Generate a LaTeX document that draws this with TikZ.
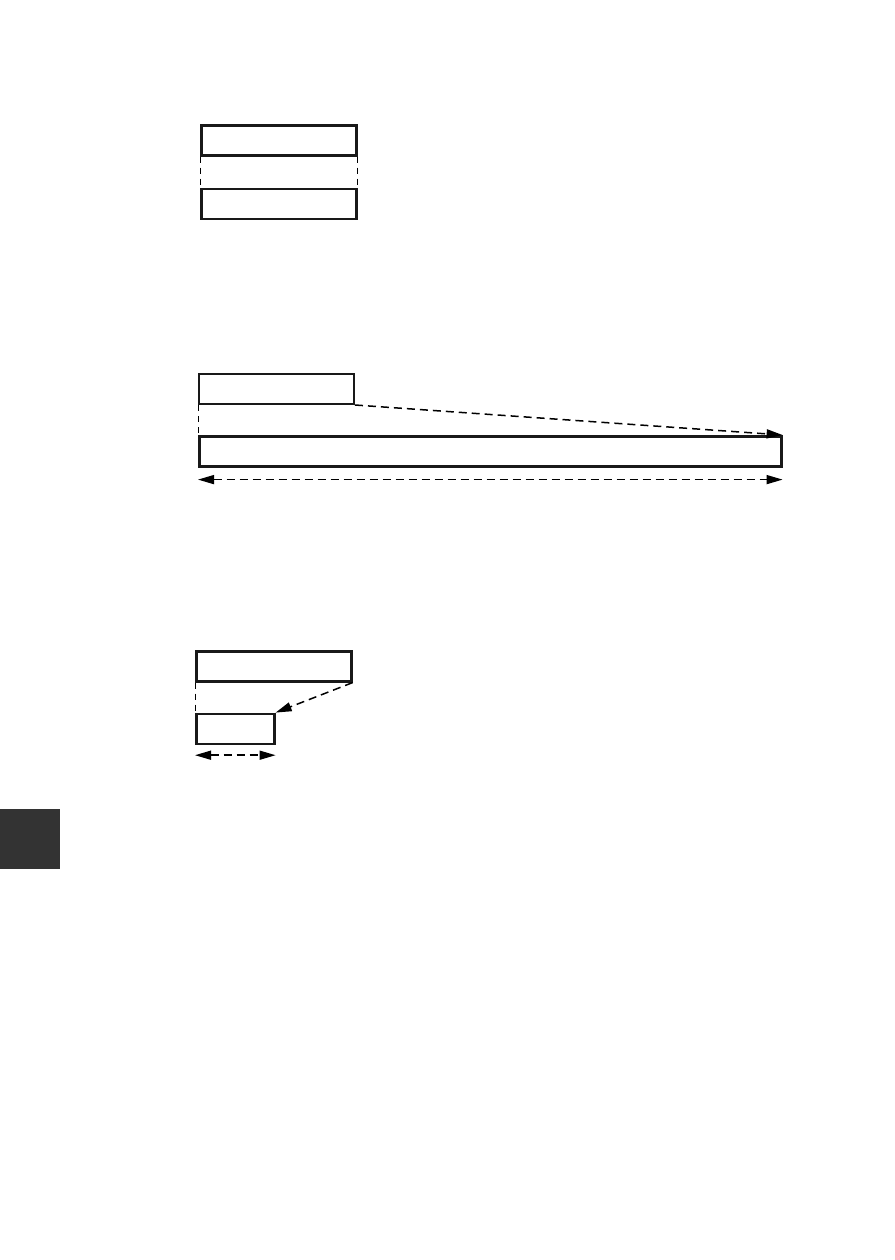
\documentclass[tikz,border=0pt]{standalone}
\usetikzlibrary{positioning,arrows.meta}
\definecolor{tabgray}{HTML}{333333}
\tikzset{
        field/.style={rectangle, draw=black!90, line width=2.6pt, inner sep=0pt, minimum height=30pt},
        thinfield/.style={field, line width=2pt},
        guide/.style={draw=black, line width=1pt, dash pattern=on 6pt off 5pt},
        move/.style={draw=black, line width=1.5pt, dash pattern=on 8pt off 5pt, -{Triangle[length=16pt,width=9pt]}},
        span/.style={move, {Triangle[length=16pt,width=9pt]}-{Triangle[length=16pt,width=9pt]}},
        tab/.style={fill=tabgray}
          }
\begin{document}
\begin{tikzpicture}[x=1pt,y=-1pt]
        \useasboundingbox (0,0) rectangle (894,1260);
        \fill[tab] (0,809) rectangle (60,869);
        % first pair
        \node[field, minimum width=155pt, anchor=north west] (a1) at (200,124) {};
        \node[field, minimum width=155pt, below=31pt of a1.south west, anchor=north west] (a2) {};
        \draw[guide] (a1.south west) -- (a2.north west);
        \draw[guide] (a1.south east) -- (a2.north east);
        % second pair
        \node[thinfield, minimum width=155pt, anchor=north west] (b1) at (198,373) {};
        \node[field, minimum width=582pt, below=30pt of b1.south west, anchor=north west] (b2) {};
        \draw[guide] (b1.south west) -- (b2.north west);
        \draw[move] (b1.south east) -- (b2.north east);
        \coordinate (bl) at ([yshift=-12pt]b2.south west);
        \coordinate (br) at ([yshift=-12pt]b2.south east);
        \draw[span] (bl) -- (br);
        % third pair
        \node[field, minimum width=155pt, anchor=north west] (c1) at (195,650) {};
        \node[field, minimum width=78pt, below=30pt of c1.south west, anchor=north west] (c2) {};
        \draw[guide] (c1.south west) -- (c2.north west);
        \draw[move] (c1.south east) -- (c2.north east);
        \coordinate (cl) at ([yshift=-10pt]c2.south west);
        \coordinate (cr) at ([yshift=-10pt]c2.south east);
        \draw[span] (cl) -- (cr);
      \end{tikzpicture}
\end{document}
